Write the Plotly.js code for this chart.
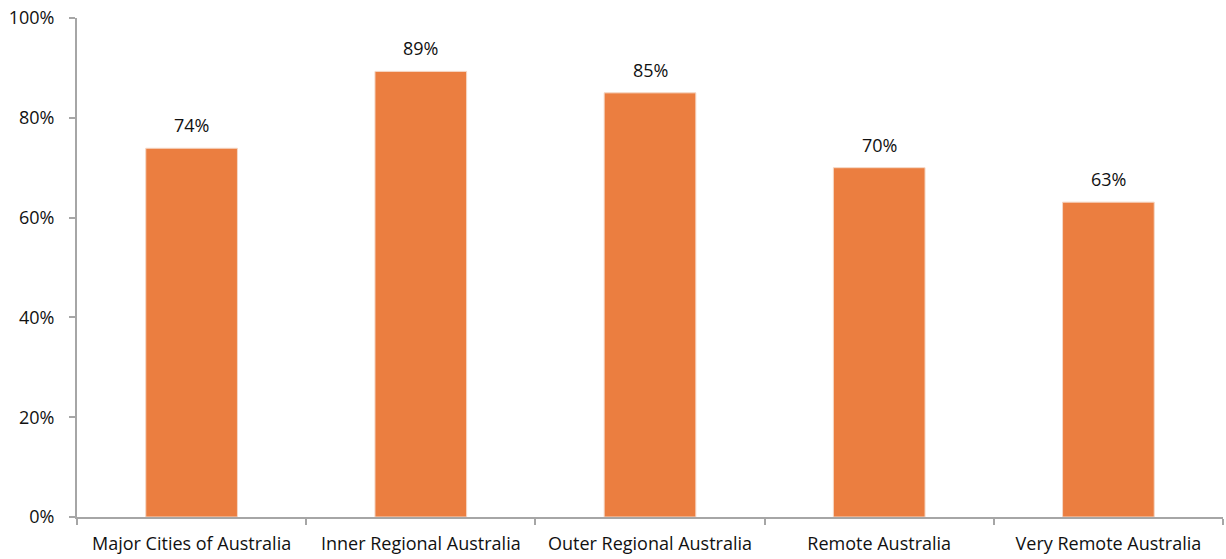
<!DOCTYPE html>
<html>
<head>
<meta charset="utf-8">
<script src="https://cdn.plot.ly/plotly-3.0.1.min.js"></script>
<style>html,body{margin:0;padding:0;background:#fff;}#chart{width:1226px;height:559px;}</style>
</head>
<body>
<div id="chart"></div>
<script>
const categories = ["Major Cities of Australia", "Inner Regional Australia", "Outer Regional Australia", "Remote Australia", "Very Remote Australia"];
const values = [73.9, 89.3, 85.0, 70.0, 63.1];
const labels = ["74%", "89%", "85%", "70%", "63%"];
const tickVals = [0, 20, 40, 60, 80, 100];
const tickText = ["0%", "20%", "40%", "60%", "80%", "100%"];

const fontFamily = "Open Sans, Lato, sans-serif";
const axisColor = "#A6A6A6";
const fs = 18;

const trace = {
  type: "bar",
  x: categories,
  y: values,
  marker: {color: "#EB7E40", line: {color: "#F5D8C6", width: 1}},
  hoverinfo: "none"
};

const annotations = categories.map((c, i) => ({
  x: c, y: values[i], text: labels[i], showarrow: false,
  xref: "x", yref: "y", yanchor: "bottom", yshift: 9,
  font: {family: fontFamily, size: fs, color: "#111"}
}));

const layout = {
  width: 1226, height: 559,
  margin: {l: 77, r: 3, t: 18, b: 42},
  paper_bgcolor: "#fff", plot_bgcolor: "#fff",
  showlegend: false,
  bargap: 0.6,
  font: {family: fontFamily, size: fs, color: "#111"},
  xaxis: {
    type: "category",
    showline: true, linecolor: axisColor, linewidth: 2,
    ticks: "outside", tickson: "boundaries", ticklen: 6, tickcolor: axisColor, tickwidth: 2,
    ticklabelstandoff: 9,
    showgrid: false, zeroline: false,
    tickfont: {family: fontFamily, size: fs, color: "#111"}
  },
  yaxis: {
    range: [0, 100],
    tickvals: tickVals, ticktext: tickText,
    showline: true, linecolor: axisColor, linewidth: 2,
    ticks: "outside", ticklen: 6, tickcolor: axisColor, tickwidth: 2,
    ticklabelstandoff: 11,
    showgrid: false, zeroline: false,
    tickfont: {family: fontFamily, size: fs, color: "#111"}
  },
  annotations: annotations
};

Plotly.newPlot("chart", [trace], layout, {displayModeBar: false, staticPlot: true});
</script>
</body>
</html>
